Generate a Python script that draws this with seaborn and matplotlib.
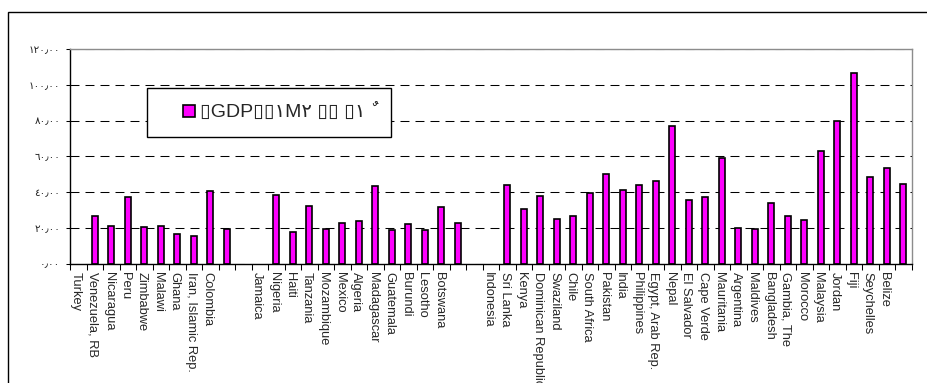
import numpy as np
import pandas as pd
import matplotlib
matplotlib.use("Agg")
import matplotlib.pyplot as plt
import matplotlib.transforms as mtransforms
from matplotlib.patches import Patch, Rectangle
from matplotlib.legend_handler import HandlerPatch
import seaborn as sns

# Category slots along the x axis (blank strings are spacer slots between groups)
countries = [
    "Turkey", "Venezuela, RB", "Nicaragua", "Peru", "Zimbabwe", "Malawi", "Ghana",
    "Iran, Islamic Rep.", "Colombia", "", "", "Jamaica", "Nigeria", "Haiti",
    "Tanzania", "Mozambique", "Mexico", "Algeria", "Madagascar", "Guatemala",
    "Burundi", "Lesotho", "Botswana", "", "", "Indonesia", "Sri Lanka", "Kenya",
    "Dominican Republic", "Swaziland", "Chile", "South Africa", "Pakistan", "India",
    "Philippines", "Egypt, Arab Rep.", "Nepal", "El Salvador", "Cape Verde",
    "Mauritania", "Argentina", "Maldives", "Bangladesh", "Gambia, The", "Morocco",
    "Malaysia", "Jordan", "Fiji", "Seychelles", "Belize", "",
]

# Bar height in each slot (nan = no bar drawn in that slot)
ratio_values = [
    np.nan, 26.5, 21.0, 37.0, 20.6, 21.0, 16.5, 15.4, 40.3, 19.5,
    np.nan, np.nan, 38.5, 17.5, 32.0, 19.2, 22.7, 23.6, 43.6, 18.6,
    22.3, 18.6, 31.6, 22.9, np.nan, np.nan, 44.1, 30.3, 38.0, 24.7,
    26.8, 39.3, 50.1, 41.1, 43.9, 46.1, 76.7, 35.8, 37.0, 58.8,
    19.6, 19.3, 33.9, 26.6, 24.6, 63.1, 79.9, 106.7, 48.2, 53.4,
    44.3,
]

y_ticks = [0, 20, 40, 60, 80, 100, 120]
y_tick_labels = ["٠٫٠٠", "٢٠٫٠٠", "٤٠٫٠٠", "٦٠٫٠٠", "٨٠٫٠٠", "١٠٠٫٠٠", "١٢٠٫٠٠"]
legend_label = "▯GDP▯▯١M٢ ▯▯ ▯١ ٌ"

BAR_COLOR = "#FF00FF"

sns.set_theme(style="white")
plt.rcParams["font.family"] = ["Liberation Sans", "DejaVu Sans"]

W, H = 927, 383
fig = plt.figure(figsize=(W / 100, H / 100), dpi=100)
fig.patch.set_facecolor("white")

# outer chart frame (only top and left edges fall inside the canvas)
fig.add_artist(Rectangle((8 / W, -0.2), 1.5, (1 - 12 / H) + 0.2,
                         transform=fig.transFigure, fill=False,
                         edgecolor="black", linewidth=1.0, clip_on=False))

ax_left, ax_right = 70, 911.5
ax_top, ax_bottom = 49, 263.5
ax = fig.add_axes([ax_left / W, 1 - ax_bottom / H,
                   (ax_right - ax_left) / W, (ax_bottom - ax_top) / H])

slots = list(range(len(countries)))
df = pd.DataFrame({"slot": slots, "value": ratio_values})
sns.barplot(data=df, x="slot", y="value", order=slots, color=BAR_COLOR,
            saturation=1, width=0.39, edgecolor="black", linewidth=1.2,
            errorbar=None, ax=ax)

ax.set_xlim(-0.5, len(countries) - 0.5)
ax.set_ylim(0, 120)
ax.set_xlabel("")
ax.set_ylabel("")

# dashed horizontal gridlines behind the bars
ax.set_axisbelow(True)
ax.grid(False)
ax.yaxis.grid(True, color="black", linewidth=0.75, linestyle=(0, (8.6, 5.8)))

for side in ("left", "bottom"):
    ax.spines[side].set_color("black")
    ax.spines[side].set_linewidth(1.0)
for side in ("top", "right"):
    ax.spines[side].set_color("#8c8c8c")
    ax.spines[side].set_linewidth(1.0)
    ax.spines[side].set_visible(True)

# y axis
ax.set_yticks(y_ticks)
ax.set_yticklabels(y_tick_labels, fontsize=7.5, family=["DejaVu Sans"])
ax.tick_params(axis="y", which="major", left=True, length=3, width=0.75,
               color="black", direction="out", pad=4, labelcolor="#222222")

# x axis: labels centred on slots, tick marks on slot boundaries
ax.set_xticks(slots)
ax.set_xticklabels(countries, rotation=270, fontsize=9.3)
ax.set_xticks(np.arange(-0.5, len(countries), 1.0), minor=True)
ax.tick_params(axis="x", which="major", bottom=True, length=0, pad=6)
ax.tick_params(axis="x", which="minor", bottom=True, length=4, width=0.75,
               color="black", direction="out")
shift = mtransforms.ScaledTranslation(-2.5 / 100, 0, fig.dpi_scale_trans)
for lbl in ax.get_xticklabels():
    lbl.set_ha("center")
    lbl.set_va("top")
    lbl.set_transform(lbl.get_transform() + shift)


# legend key: a small square sitting at the right end of the handle area
def square_key(legend, orig_handle, xdescent, ydescent, width, height, fontsize):
    s = 8.6
    return Rectangle((-xdescent + width - s, -ydescent + (height - s) / 2), s, s)


handle = Patch(facecolor=BAR_COLOR, edgecolor="black", linewidth=1.2)
leg = ax.legend([handle], [legend_label], loc="upper left",
                bbox_to_anchor=(147 / W, 1 - 141 / H, 244 / W, 53 / H),
                bbox_transform=fig.transFigure, mode="expand",
                borderaxespad=0, frameon=True, fancybox=False, framealpha=1,
                edgecolor="black", borderpad=0.79, handlelength=1.68,
                handleheight=0.7, handletextpad=0.26,
                handler_map={Patch: HandlerPatch(patch_func=square_key)},
                prop={"family": ["Liberation Sans Narrow", "Liberation Sans", "DejaVu Sans"],
                      "size": 14})
leg.get_frame().set_linewidth(1.0)

fig.savefig("out.png", dpi=100, facecolor="white")
